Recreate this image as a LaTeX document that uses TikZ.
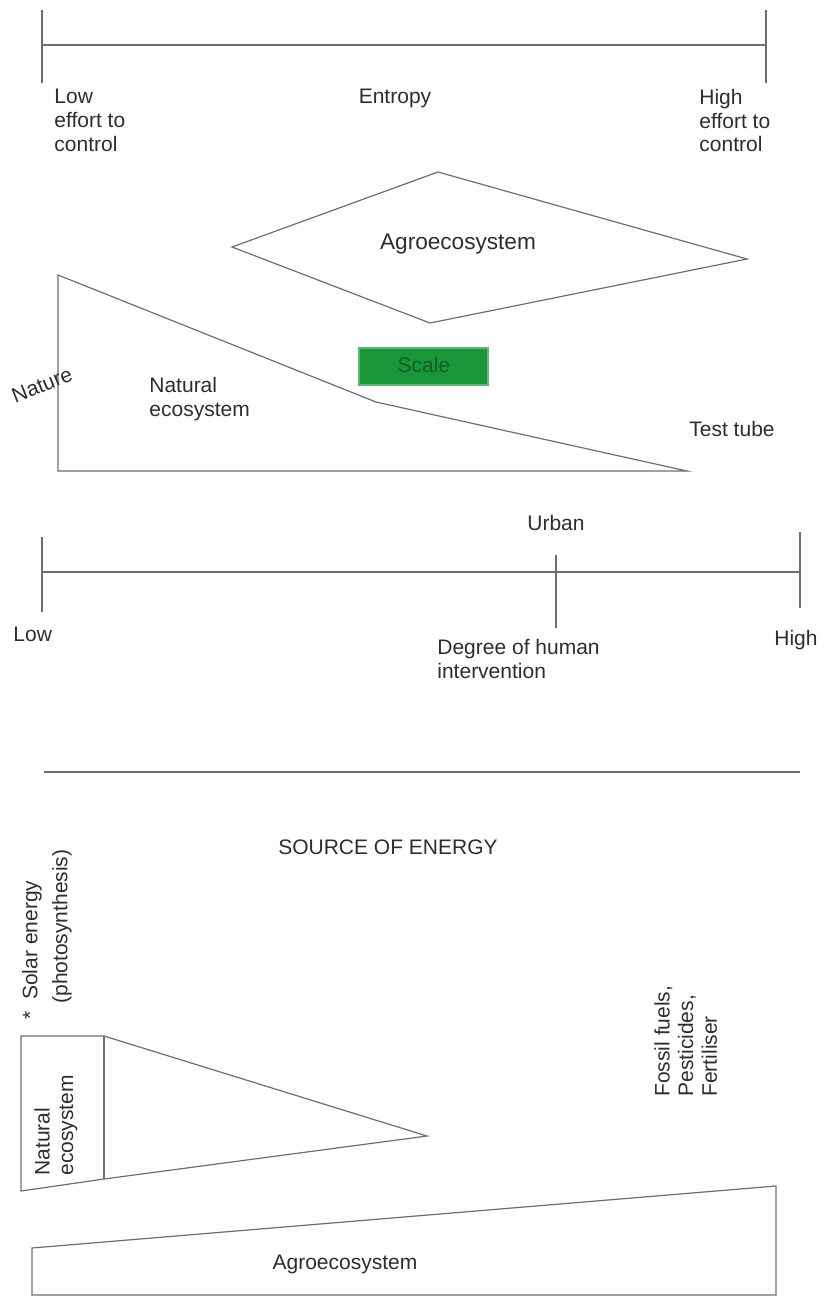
\documentclass[tikz,border=0pt]{standalone}
\usepackage{fontspec}
\setmainfont{Liberation Sans}
\definecolor{scalegreen}{RGB}{26,150,58}
\definecolor{scaletext}{RGB}{20,95,40}
\definecolor{linegrey}{RGB}{110,110,110}
\definecolor{textgrey}{RGB}{45,45,45}

\begin{document}
\begin{tikzpicture}[x = 0.5pt, y = -0.5pt,
	line/.style = {draw = linegrey, line width = 0.6pt},
	label/.style = {inner sep = 0pt, text = textgrey, font = \fontsize{10.5}{11.8}\selectfont, align = left},
	biglabel/.style = {label, font = \fontsize{11.3}{13}\selectfont}]
	
	% Frame
	
	\useasboundingbox (0, 0) rectangle (824, 1297);
	
	% Entropy scale
	
	\begin{scope}[line]
	
		\draw (42, 10) -- (42, 83);
		\draw (766, 10) -- (766, 83);
		\draw (42, 45) -- (766, 45);
		
	\end{scope}
	
	\node [label, anchor = north west] (lowEffort) at (54, 89) {Low\\effort to\\control};
	\node [label, anchor = north] (entropy) at (395, 89) {Entropy};
	\node [label, anchor = north west] (highEffort) at (699, 89) {High\\effort to\\control};
	
	% Agroecosystem diamond and natural ecosystem wedge
	
	\draw [line] (438, 172) -- (747, 259) -- (430, 323) -- (232, 247) -- cycle;
	\node [biglabel] (agroTop) at (458, 244) {Agroecosystem};
	
	\draw [line] (58, 275) -- (376, 402) -- (687, 471) -- (58, 471) -- cycle;
	\node [label, rotate = 22] (nature) at (42, 385) {Nature};
	\node [label, anchor = north west] (naturalTop) at (149, 377) {Natural\\ecosystem};
	
	\filldraw [fill = scalegreen, draw = scalegreen!70!white, line width = 0.6pt] (359, 348) rectangle (488, 385);
	\node [label, text = scaletext] (scale) at (424, 365) {Scale};
	
	\node [label, anchor = north west] (testTube) at (689, 421) {Test tube};
	
	% Human intervention scale
	
	\node [label, anchor = north] (urban) at (556, 515) {Urban};
	
	\begin{scope}[line]
	
		\draw (42, 537) -- (42, 612);
		\draw (800, 532) -- (800, 608);
		\draw (556, 555) -- (556, 628);
		\draw (42, 572) -- (800, 572);
		
	\end{scope}
	
	\node [label, anchor = north west] (low) at (13, 627) {Low};
	\node [label, anchor = north west] (degree) at (437, 639) {Degree of human\\intervention};
	\node [label, anchor = north east] (high) at (818, 630) {High};
	
	% Separator
	
	\draw [line] (44, 772) -- (800, 772);
	
	% Source of energy
	
	\node [label, anchor = north] (source) at (388, 839) {SOURCE OF ENERGY};
	
	\node [label, rotate = 90, anchor = west] (solar) at (32, 1020) {*\ \ Solar energy};
	\node [label, rotate = 90, anchor = west] (photo) at (62, 1004) {(photosynthesis)};
	
	\draw [line] (21, 1036) -- (104, 1036) -- (427, 1136) -- (104, 1179) -- (21, 1191) -- cycle;
	\draw [line] (104, 1036) -- (104, 1179);
	\node [label, rotate = 90, anchor = north west] (naturalLow) at (34, 1176) {Natural\\ecosystem};
	
	\node [label, rotate = 90, anchor = north west] (fossil) at (654, 1097) {Fossil fuels,\\Pesticides,\\Fertiliser};
	
	\draw [line] (32, 1295) -- (32, 1248) -- (776, 1186) -- (776, 1295) -- cycle;
	\node [label] (agroLow) at (345, 1264) {Agroecosystem};

\end{tikzpicture}
\end{document}
